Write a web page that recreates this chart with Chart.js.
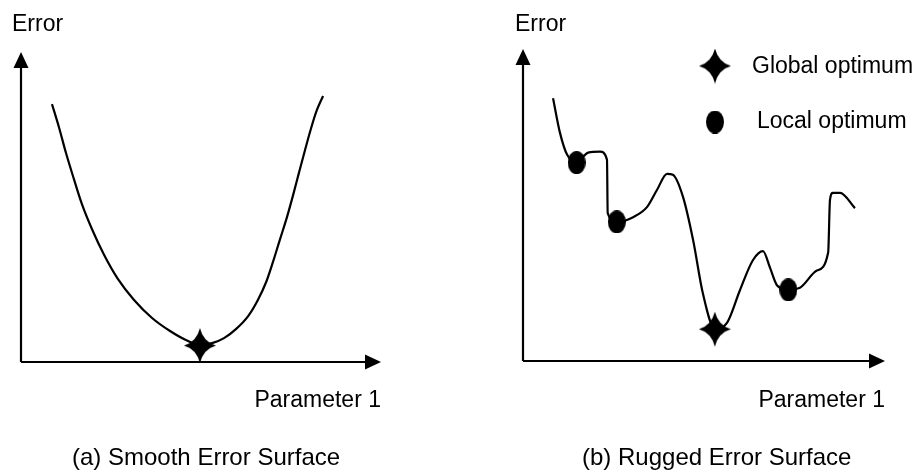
<!DOCTYPE html>
<html>
<head>
<meta charset="utf-8">
<script src="https://cdn.jsdelivr.net/npm/chart.js@4/dist/chart.umd.min.js"></script>
<style>
  html, body { margin: 0; padding: 0; background: #fff; }
  #wrap { position: relative; width: 922px; height: 472px; }
  canvas { position: absolute; top: 0; }
  #smoothChart { left: 0; }
  #ruggedChart { left: 461px; }
</style>
</head>
<body>
<div id="wrap">
  <canvas id="smoothChart" width="461" height="472"></canvas>
  <canvas id="ruggedChart" width="461" height="472"></canvas>
</div>
<script>
// Data (parameter 0..100 along x axis, error 0..100 along y axis)
const smoothX = [8.6, 10.6, 12.5, 14.7, 16.9, 19.7, 23.1, 26.9, 31.4, 36.4, 41.4, 45.8, 49.7, 53.1, 56.4, 59.7, 63.1, 65.8, 68.1, 70.0, 71.9, 73.9, 75.6, 77.2, 78.9, 80.6, 82.2, 83.9];
const smoothY = [83.2, 75.5, 67.4, 59.0, 51.0, 42.9, 34.5, 26.8, 20.0, 14.2, 10.0, 7.1, 5.5, 6.1, 7.7, 10.6, 14.8, 20.0, 25.8, 32.3, 39.4, 46.8, 53.9, 61.0, 68.4, 75.5, 81.3, 85.8];
const smoothGlobal = [{ x: 49.7, y: 5.3 }];

const ruggedX = [8.3, 10.2, 12.2, 14.9, 18.0, 21.3, 23.2, 23.4, 26.0, 30.4, 34.3, 37.0, 39.8, 41.4, 44.2, 47.0, 49.7, 53.0, 56.4, 59.9, 63.5, 66.3, 68.2, 70.2, 73.2, 76.5, 81.2, 84.3, 84.8, 85.6, 87.6, 91.7];
const ruggedY = [84.2, 73.2, 66.1, 63.9, 66.8, 67.1, 64.5, 47.4, 44.5, 46.1, 49.4, 54.8, 60.0, 59.7, 52.6, 38.7, 21.6, 10.3, 12.3, 22.6, 32.3, 35.2, 30.0, 24.2, 22.9, 23.5, 29.0, 34.8, 51.6, 53.9, 53.9, 49.0];
const ruggedGlobal = [{ x: 53.0, y: 10.2 }];
const ruggedLocal = [{ x: 14.8, y: 63.6 }, { x: 25.9, y: 44.6 }, { x: 73.3, y: 22.8 }];

const axisTitleY = 'Error';
const axisTitleX = 'Parameter 1';
const captions = ['(a) Smooth Error Surface', '(b) Rugged Error Surface'];
const legendLabels = ['Global optimum', 'Local optimum'];

const FONT = "'Liberation Sans', Arial, sans-serif";

// Marker images
function makeStar(w, h) {
    const c = document.createElement('canvas');
    c.width = w; c.height = h;
    const g = c.getContext('2d');
    const cx = w / 2, cy = h / 2, k = 3.5;
    g.fillStyle = '#000';
    g.beginPath();
    g.moveTo(cx, 0);
    g.quadraticCurveTo(cx + k, cy - k, w, cy);
    g.quadraticCurveTo(cx + k, cy + k, cx, h);
    g.quadraticCurveTo(cx - k, cy + k, 0, cy);
    g.quadraticCurveTo(cx - k, cy - k, cx, 0);
    g.closePath();
    g.fill();
    return c;
}
function makeDot(w, h) {
    const c = document.createElement('canvas');
    c.width = w; c.height = h;
    const g = c.getContext('2d');
    g.fillStyle = '#000';
    g.beginPath();
    g.ellipse(w / 2, h / 2, w / 2, h / 2, 0, 0, Math.PI * 2);
    g.fill();
    return c;
}
const starImg = makeStar(32, 35);
const dotImg = makeDot(18, 23);

const toPoints = (xs, ys) => xs.map((x, i) => ({ x: x, y: ys[i] }));

// Axes with arrow heads + texts
function framePlugin(caption, captionX, titleX, legend) {
    return {
        id: 'frame',
        beforeDatasetsDraw(chart) {
            const { ctx, chartArea: a } = chart;
            ctx.save();
            ctx.strokeStyle = '#000';
            ctx.fillStyle = '#000';
            ctx.lineWidth = 2.2;
            ctx.beginPath();
            ctx.moveTo(a.left, a.bottom);
            ctx.lineTo(a.left, a.top + 12);
            ctx.moveTo(a.left, a.bottom);
            ctx.lineTo(a.right - 12, a.bottom);
            ctx.stroke();
            ctx.beginPath();
            ctx.moveTo(a.left, a.top);
            ctx.lineTo(a.left + 7.5, a.top + 16);
            ctx.lineTo(a.left - 7.5, a.top + 16);
            ctx.closePath();
            ctx.fill();
            ctx.beginPath();
            ctx.moveTo(a.right, a.bottom);
            ctx.lineTo(a.right - 16, a.bottom - 7.5);
            ctx.lineTo(a.right - 16, a.bottom + 7.5);
            ctx.closePath();
            ctx.fill();

            ctx.textBaseline = 'alphabetic';
            ctx.font = '23px ' + FONT;
            ctx.textAlign = 'left';
            ctx.fillText(axisTitleY, titleX, 31);
            ctx.textAlign = 'right';
            ctx.fillText(axisTitleX, a.right, 407);
            ctx.font = '24px ' + FONT;
            ctx.textAlign = 'left';
            ctx.fillText(caption, captionX, 465);

            if (legend) {
                ctx.font = '23px ' + FONT;
                ctx.drawImage(starImg, legend.x - 16, 66 - 17.5);
                ctx.fillText(legendLabels[0], legend.x + 37, 73);
                ctx.drawImage(dotImg, legend.x - 9, 122 - 11.5);
                ctx.fillText(legendLabels[1], legend.x + 42, 128);
            }
            ctx.restore();
        }
    };
}

function baseOptions(padding) {
    return {
        responsive: false,
        animation: false,
        devicePixelRatio: 1,
        layout: { padding: padding },
        scales: {
            x: { type: 'linear', min: 0, max: 100, display: false },
            y: { type: 'linear', min: 0, max: 100, display: false }
        },
        plugins: { legend: { display: false }, tooltip: { enabled: false } }
    };
}

const lineStyle = {
    borderColor: '#000',
    borderWidth: 2.2,
    pointRadius: 0,
    fill: false,
    clip: false,
    cubicInterpolationMode: 'monotone'
};

new Chart(document.getElementById('smoothChart'), {
    type: 'line',
    data: {
        datasets: [
            Object.assign({ data: toPoints(smoothX, smoothY) }, lineStyle),
            { type: 'scatter', data: smoothGlobal, pointStyle: starImg, pointRadius: 16, clip: false }
        ]
    },
    options: baseOptions({ left: 21, top: 52, right: 80, bottom: 110 }),
    plugins: [framePlugin(captions[0], 72, 12, null)]
});

new Chart(document.getElementById('ruggedChart'), {
    type: 'line',
    data: {
        datasets: [
            Object.assign({ data: toPoints(ruggedX, ruggedY) }, lineStyle),
            { type: 'scatter', data: ruggedGlobal, pointStyle: starImg, pointRadius: 16, clip: false },
            { type: 'scatter', data: ruggedLocal, pointStyle: dotImg, pointRadius: 10, clip: false }
        ]
    },
    options: baseOptions({ left: 62, top: 49, right: 37, bottom: 111 }),
    plugins: [framePlugin(captions[1], 121, 54, { x: 254 })]
});
</script>
</body>
</html>
